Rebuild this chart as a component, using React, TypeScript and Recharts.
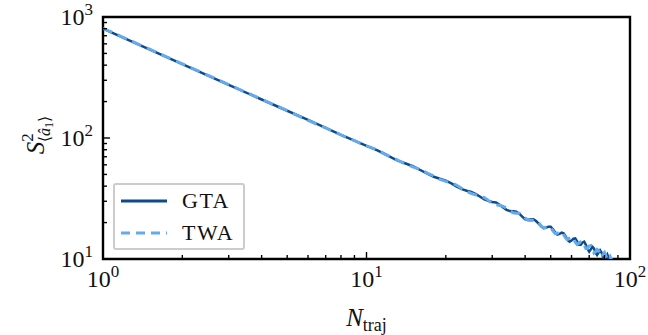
import React from 'react';
import { LineChart, Line, XAxis, YAxis, ReferenceArea } from 'recharts';

const nTraj = [
  1, 2, 3, 4, 5, 6, 7, 8, 9, 10, 11, 12, 13, 14, 15, 16, 17, 18, 19, 20,
  21, 22, 23, 24, 25, 26, 27, 28, 29, 30, 31, 32, 33, 34, 35, 36, 37, 38, 39, 40,
  41, 42, 43, 44, 45, 46, 47, 48, 49, 50, 51, 52, 53, 54, 55, 56, 57, 58, 59, 60,
  61, 62, 63, 64, 65, 66, 67, 68, 69, 70, 71, 72, 73, 74, 75, 76, 77, 78, 79, 80,
  81, 82, 83, 84, 85, 86,
];

const gta = [
  800, 408, 275, 208, 168, 141, 121, 106, 95, 86, 79, 71.8, 65.7, 61.8, 58.4, 54.4, 50.8, 47.8, 46, 44.5,
  42.2, 39.7, 37.8, 36.7, 35.9, 34.4, 32.7, 31.1, 30.2, 29.6, 29.3, 28.1, 26.7, 25.5, 24.9, 24.8, 24.6, 23.7, 22.4, 21.3,
  21.1, 21.2, 21.3, 20.6, 19.6, 18.6, 18.0, 18.1, 18.5, 18.5, 17.6, 16.6, 15.9, 16.1, 16.5, 16.3, 15.4, 14.3, 13.9, 14.2,
  14.7, 14.8, 14.0, 13.1, 13.1, 13.7, 13.9, 13.1, 12.1, 11.5, 12.0, 12.6, 12.2, 11.3, 10.8, 11.3, 11.8, 11.3, 10.4, 9.9,
  10.4, 10.9, 10.1, 9.3, 9.7, 10.0,
];

const twa = [
  805, 410, 276, 209, 168, 140, 121, 106, 95, 86, 79.8, 71.8, 66.4, 61.2, 57.8, 54.9, 51.3, 48.5, 45.5, 43.8,
  42.6, 40.7, 38.2, 36.1, 34.8, 33.9, 33.0, 32.2, 30.5, 28.7, 28.0, 27.8, 27.2, 26.3, 25.0, 24.1, 23.9, 23.9, 23.1, 21.8,
  20.9, 20.8, 20.9, 20.8, 20.0, 18.8, 18.1, 18.3, 18.7, 18.1, 17.1, 16.2, 16.3, 16.6, 16.8, 15.9, 14.9, 14.5, 14.9, 15.2,
  14.8, 13.8, 13.2, 13.5, 13.9, 13.9, 13.0, 12.2, 12.2, 12.8, 12.9, 12.0, 11.2, 11.5, 12.0, 11.7, 10.9, 10.4, 10.9, 11.3,
  10.6, 9.9, 10.1, 10.5, 9.9, 9.5,
];

const xTicks = [1, 2, 3, 4, 5, 6, 7, 8, 9, 10, 20, 30, 40, 50, 60, 70, 80, 90, 100];
const yTicks = [10, 20, 30, 40, 50, 60, 70, 80, 90, 100, 200, 300, 400, 500, 600, 700, 800, 900, 1000];
const majorExp: Record<number, string> = { 1: '0', 10: '1', 100: '2', 1000: '3' };

const data = nTraj.map((n, i) => ({ n, gta: gta[i], twa: twa[i] }));

const FONT = '"Liberation Serif", "DejaVu Serif", serif';
const DARK = '#0d4b8a';
const LIGHT = '#65aaea';

const XTick = (props: any) => {
  const { x, y, payload } = props;
  const exp = majorExp[payload.value];
  const len = exp !== undefined ? 7 : 4;
  return (
    <g>
      <line x1={x} y1={y} x2={x} y2={y - len} stroke="#000" strokeWidth={1.4} />
      {exp !== undefined && (
        <text x={x} y={y + 28} textAnchor="middle" fontFamily={FONT} fontSize={24} fill="#111">
          10<tspan dy={-10} fontSize={17}>{exp}</tspan>
        </text>
      )}
    </g>
  );
};

const YTick = (props: any) => {
  const { x, y, payload } = props;
  const exp = majorExp[payload.value];
  const len = exp !== undefined ? 7 : 4;
  return (
    <g>
      <line x1={x} y1={y} x2={x + len} y2={y} stroke="#000" strokeWidth={1.4} />
      {exp !== undefined && (
        <text x={x - 10} y={y + 8} textAnchor="end" fontFamily={FONT} fontSize={24} fill="#111">
          10<tspan dy={-10} fontSize={17}>{exp}</tspan>
        </text>
      )}
    </g>
  );
};

const YLabel = (props: any) => {
  const { viewBox } = props;
  const cx = 44;
  const cy = viewBox.y + viewBox.height / 2 - 3;
  return (
    <text
      x={cx}
      y={cy}
      textAnchor="middle"
      transform={`rotate(-90, ${cx}, ${cy})`}
      fontFamily={FONT}
      fontSize={25}
      fill="#111"
    >
      <tspan fontStyle="italic">S</tspan>
      <tspan dy={-11} fontSize={17}>2</tspan>
      <tspan dx={-9} dy={17} fontSize={16}>⟨</tspan>
      <tspan fontSize={16} fontStyle="italic">â</tspan>
      <tspan fontSize={12} dy={3}>1</tspan>
      <tspan fontSize={16} dy={-3}>⟩</tspan>
    </text>
  );
};

const XLabel = (props: any) => {
  const { viewBox } = props;
  const cx = viewBox.x + viewBox.width / 2;
  return (
    <text x={cx} y={326} textAnchor="middle" fontFamily={FONT} fontSize={25} fill="#111">
      <tspan fontStyle="italic">N</tspan>
      <tspan dy={5} fontSize={18}>traj</tspan>
    </text>
  );
};

const legendItems = [
  { name: 'GTA', color: DARK, dash: undefined as string | undefined },
  { name: 'TWA', color: LIGHT, dash: '9 6' },
];

const LegendBox = () => (
  <div
    style={{
      position: 'absolute',
      left: 113,
      top: 183,
      width: 132,
      height: 67,
      border: '2px solid #cccccc',
      borderRadius: 3,
      background: 'rgba(255,255,255,0.8)',
      fontFamily: FONT,
      fontSize: 22,
      color: '#111',
      boxSizing: 'border-box',
    }}
  >
    {legendItems.map((item, i) => (
      <div
        key={item.name}
        style={{ position: 'absolute', left: 6, top: i === 0 ? 2 : 34, height: 28, display: 'flex', alignItems: 'center' }}
      >
        <svg width={46} height={10}>
          <line x1={0} y1={5} x2={46} y2={5} stroke={item.color} strokeWidth={3} strokeDasharray={item.dash} />
        </svg>
        <span style={{ marginLeft: 15, letterSpacing: 1.5 }}>{item.name}</span>
      </div>
    ))}
  </div>
);

export default function App() {
  return (
    <div style={{ position: 'absolute', left: 0, top: 0, width: 648, height: 335, background: '#fff' }}>
      <LineChart width={648} height={335} data={data} margin={{ top: 17, right: 18, bottom: 36, left: 43 }}>
        <XAxis
          dataKey="n"
          type="number"
          scale="log"
          domain={[1, 100]}
          ticks={xTicks}
          interval={0}
          tickSize={0}
          tickMargin={0}
          tick={<XTick />}
          axisLine={false}
          height={40}
          allowDataOverflow
          label={<XLabel />}
        />
        <YAxis
          type="number"
          scale="log"
          domain={[10, 1000]}
          ticks={yTicks}
          interval={0}
          tickSize={0}
          tickMargin={0}
          tick={<YTick />}
          axisLine={false}
          width={60}
          allowDataOverflow
          label={<YLabel />}
        />
        <Line dataKey="gta" stroke={DARK} strokeWidth={2.5} dot={false} isAnimationActive={false} />
        <Line
          dataKey="twa"
          stroke={LIGHT}
          strokeWidth={3}
          strokeDasharray="10 6"
          dot={false}
          isAnimationActive={false}
        />
        <ReferenceArea x1={1} x2={100} y1={10} y2={1000} fill="none" stroke="#000" strokeWidth={2.4} />
      </LineChart>
      <LegendBox />
    </div>
  );
}
